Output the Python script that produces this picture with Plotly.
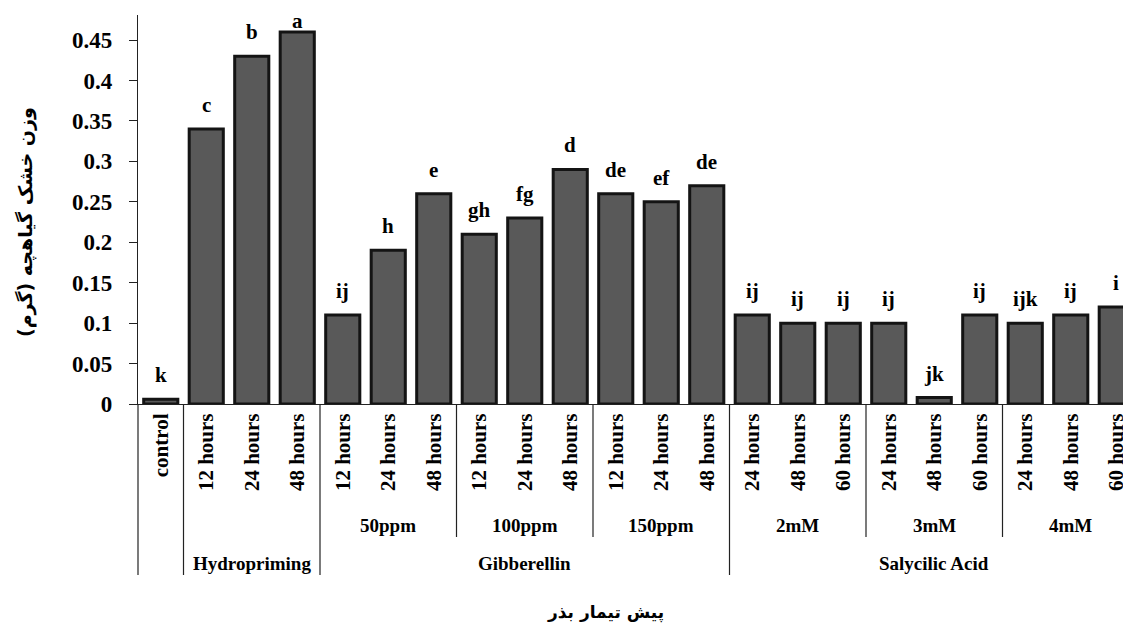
import plotly.graph_objects as go

# ---- data ----
tick_labels = ["control",
               "12 hours", "24 hours", "48 hours",
               "12 hours", "24 hours", "48 hours",
               "12 hours", "24 hours", "48 hours",
               "12 hours", "24 hours", "48 hours",
               "24 hours", "48 hours", "60 hours",
               "24 hours", "48 hours", "60 hours",
               "24 hours", "48 hours", "60 hours"]
dose = ["", "", "", "",
        "50ppm", "50ppm", "50ppm",
        "100ppm", "100ppm", "100ppm",
        "150ppm", "150ppm", "150ppm",
        "2mM", "2mM", "2mM",
        "3mM", "3mM", "3mM",
        "4mM", "4mM", "4mM"]
treatment = ["",
             "Hydropriming", "Hydropriming", "Hydropriming",
             "Gibberellin", "Gibberellin", "Gibberellin",
             "Gibberellin", "Gibberellin", "Gibberellin",
             "Gibberellin", "Gibberellin", "Gibberellin",
             "Salycilic Acid", "Salycilic Acid", "Salycilic Acid",
             "Salycilic Acid", "Salycilic Acid", "Salycilic Acid",
             "Salycilic Acid", "Salycilic Acid", "Salycilic Acid"]
dry_weight = [0.006, 0.34, 0.43, 0.46,
              0.11, 0.19, 0.26,
              0.21, 0.23, 0.29,
              0.26, 0.25, 0.27,
              0.11, 0.10, 0.10,
              0.10, 0.008, 0.11,
              0.10, 0.11, 0.12]
letters = ["k", "c", "b", "a",
           "ij", "h", "e",
           "gh", "fg", "d",
           "de", "ef", "de",
           "ij", "ij", "ij",
           "ij", "jk", "ij",
           "ijk", "ij", "i"]
y_ticks = [0, 0.05, 0.1, 0.15, 0.2, 0.25, 0.3, 0.35, 0.4, 0.45]

y_title = "وزن خشک گیاهچه (گرم)"
x_title = "پیش تیمار بذر"

# ---- layout constants (page has an 8px body margin) ----
OFF = 8
W, H = 1131 - OFF, 623 - OFF
ML, MR, MT = 138 - OFF, 0, 15 - OFF
plot_w = W - ML - MR
plot_h = 404 - 15
MB = H - MT - plot_h
cat_px = 45.5
xr = [-0.5, -0.5 + plot_w / cat_px]
yr = [0, 0.481]

serif = "Liberation Serif, Times New Roman, serif"
persian = "DejaVu Sans, Noto Sans, sans-serif"

x = list(range(len(dry_weight)))

fig = go.Figure()
fig.add_trace(go.Bar(
    x=x, y=dry_weight,
    marker=dict(color="#595959", line=dict(color="#141414", width=3)),
    width=0.75,
    hoverinfo="y",
))

annotations = []
shapes = []


def page_y_to_paper(py):
    return (404 - py) / plot_h


def xdata_to_paper(xv):
    return (xv - xr[0]) / (xr[1] - xr[0])


# significance letters (kept inside the figure when a bar is near the top)
for xi, v, t in zip(x, dry_weight, letters):
    bar_top_fig = MT + plot_h * (1 - v / yr[1])
    ys = min(10, bar_top_fig - 27)
    annotations.append(dict(x=xi, y=v, xref="x", yref="y", text=t,
                            showarrow=False, yanchor="bottom", yshift=ys,
                            font=dict(family=serif, size=21, color="black", weight="bold")))


def spans(labels):
    out = []
    start = 0
    for i in range(1, len(labels) + 1):
        if i == len(labels) or labels[i] != labels[start]:
            out.append((labels[start], start, i - 1))
            start = i
    return out


y_lvl2_text = page_y_to_paper(525)
y_lvl2_line = page_y_to_paper(537)
y_lvl3_text = page_y_to_paper(563)
y_lvl3_line = page_y_to_paper(575)

lvl3_bounds = set()
for name, s, e in spans(treatment):
    lvl3_bounds.add(s - 0.5)
    lvl3_bounds.add(e + 0.5)
    if name:
        annotations.append(dict(x=(s + e) / 2, y=y_lvl3_text, xref="x", yref="paper",
                                text=name, showarrow=False, yanchor="middle",
                                font=dict(family=serif, size=19, color="black", weight="bold")))
lvl2_bounds = set()
for name, s, e in spans(dose):
    if name:
        lvl2_bounds.add(s - 0.5)
        lvl2_bounds.add(e + 0.5)
        annotations.append(dict(x=(s + e) / 2, y=y_lvl2_text, xref="x", yref="paper",
                                text=name, showarrow=False, yanchor="middle",
                                font=dict(family=serif, size=19, color="black", weight="bold")))

for b in sorted(lvl3_bounds):
    px = xdata_to_paper(b)
    if px <= 1.0001:
        shapes.append(dict(type="line", xref="paper", yref="paper", x0=px, x1=px,
                           y0=0, y1=y_lvl3_line, line=dict(color="#222", width=1.2)))
for b in sorted(lvl2_bounds - lvl3_bounds):
    px = xdata_to_paper(b)
    if px <= 1.0001:
        shapes.append(dict(type="line", xref="paper", yref="paper", x0=px, x1=px,
                           y0=0, y1=y_lvl2_line, line=dict(color="#222", width=1.2)))

# axis titles
annotations.append(dict(x=-(138 - 25) / plot_w, y=page_y_to_paper(222), xref="paper", yref="paper",
                        text=y_title, textangle=-90, showarrow=False,
                        xanchor="center", yanchor="middle",
                        font=dict(family=persian, size=19, color="black", weight="bold")))
annotations.append(dict(x=(605 - 138) / plot_w, y=page_y_to_paper(612), xref="paper", yref="paper",
                        text=x_title, showarrow=False, xanchor="center", yanchor="middle",
                        font=dict(family=persian, size=17, color="black", weight="bold")))

fig.update_layout(
    width=W, height=H,
    margin=dict(l=ML, r=MR, t=MT, b=MB, pad=0, autoexpand=False),
    plot_bgcolor="white", paper_bgcolor="white",
    showlegend=False,
    annotations=annotations,
    shapes=shapes,
    xaxis=dict(range=xr, tickmode="array", tickvals=x, ticktext=tick_labels,
               tickangle=-90, ticks="", showline=True, linecolor="#222", linewidth=1.2,
               showgrid=False, zeroline=False, automargin=False,
               tickfont=dict(family=serif, size=21, color="black", weight="bold")),
    yaxis=dict(range=yr, tickmode="array", tickvals=y_ticks,
               ticktext=[("%g" % v) for v in y_ticks],
               ticks="outside", ticklen=8, tickcolor="#222", tickwidth=1.2,
               ticklabelstandoff=12,
               showline=True, linecolor="#222", linewidth=1.2,
               showgrid=False, zeroline=False, automargin=False,
               tickfont=dict(family=serif, size=23, color="black", weight="bold")),
)

fig.write_html("out.html")
